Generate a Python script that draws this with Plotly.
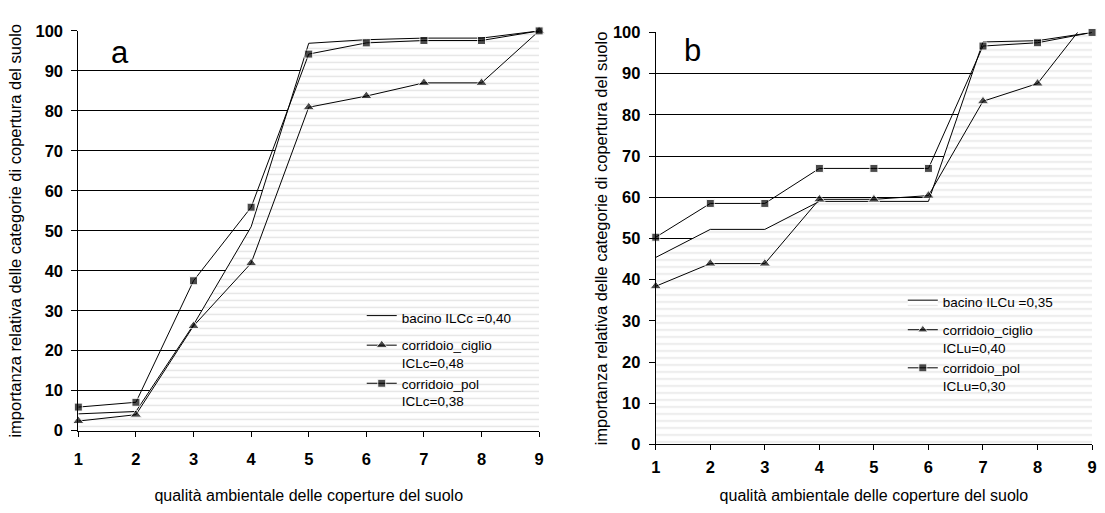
import plotly.graph_objects as go

# Classi di qualità ambientale (asse x)
classi = [1, 2, 3, 4, 5, 6, 7, 8, 9]

# Pannello a: curve cumulate (ILCc / ICLc)
bacino_a = [4.2, 4.8, 26.5, 51.0, 96.9, 97.8, 98.2, 98.2, 100.0]
ciglio_a = [2.4, 4.0, 26.2, 41.9, 80.9, 83.7, 87.0, 87.0, 100.0]
pol_a = [5.9, 7.1, 37.5, 55.9, 94.2, 97.0, 97.6, 97.6, 100.0]

# Pannello b: curve cumulate (ILCu / ICLu)
bacino_b = [45.4, 52.2, 52.2, 59.0, 59.0, 59.0, 97.7, 98.0, 100.0]
ciglio_b = [38.4, 43.9, 43.9, 59.5, 59.5, 60.4, 83.3, 87.6, 104.5]
pol_b = [50.3, 58.5, 58.5, 67.0, 67.0, 67.0, 96.7, 97.5, 100.0]

nomi_a = ["bacino ILCc =0,40", "corridoio_ciglio<br>ICLc=0,48", "corridoio_pol<br>ICLc=0,38"]
nomi_b = ["bacino ILCu =0,35", "corridoio_ciglio<br>ICLu=0,40", "corridoio_pol<br>ICLu=0,30"]

W, H = 1105, 513
FONT = "Liberation Sans, Arial, sans-serif"
YMAX = 100


def marker_sizes(values, size):
    # markers beyond the plotted range are not drawn (the line is clipped there)
    return [size if v <= YMAX else 0 for v in values]


fig = go.Figure()


def add_panel(xa, ya, leg, bacino, ciglio, pol, nomi):
    fig.add_trace(go.Scatter(
        x=classi, y=bacino, name=nomi[0], mode="lines", fill="tozeroy",
        line=dict(color="black", width=1),
        fillcolor="white",
        fillpattern=dict(shape="-", fgcolor="#cccccc", bgcolor="white",
                         size=7, solidity=0.22),
        xaxis=xa, yaxis=ya, legend=leg, legendgroup=leg + "g1",
    ))
    fig.add_trace(go.Scatter(
        x=classi, y=ciglio, name=nomi[1], mode="lines+markers",
        line=dict(color="black", width=1),
        marker=dict(symbol="triangle-up", color="black",
                    size=marker_sizes(ciglio, 10)),
        cliponaxis=False,
        xaxis=xa, yaxis=ya, legend=leg, legendgroup=leg + "g2",
    ))
    fig.add_trace(go.Scatter(
        x=classi, y=pol, name=nomi[2], mode="lines+markers",
        line=dict(color="black", width=1),
        marker=dict(symbol="square", color="black",
                    size=marker_sizes(pol, 8)),
        cliponaxis=False,
        xaxis=xa, yaxis=ya, legend=leg, legendgroup=leg + "g2",
    ))


add_panel("x", "y", "legend", bacino_a, ciglio_a, pol_a, nomi_a)
add_panel("x2", "y2", "legend2", bacino_b, ciglio_b, pol_b, nomi_b)


def px_x(p):
    return p / W


def px_y(p):
    return 1 - p / H


xtitle = "qualità ambientale delle coperture del suolo"
ytitle = "importanza relativa delle categorie di copertura del suolo"

tick_font = dict(family=FONT, size=16.5, color="black", weight="bold")

common_x = dict(
    range=[1, 9], tickmode="array", tickvals=classi, showgrid=False,
    zeroline=False, showline=True, linecolor="black", linewidth=1,
    ticks="outside", ticklen=5, tickcolor="black", tickfont=tick_font,
    title=dict(text=xtitle, font=dict(family=FONT, size=16, color="black")),
)
common_y = dict(
    range=[0, YMAX], dtick=10, showgrid=True, gridcolor="black", gridwidth=1,
    zeroline=False, showline=True, linecolor="black", linewidth=1,
    ticks="outside", ticklen=6, tickcolor="black", tickfont=tick_font,
    title=dict(text=ytitle, font=dict(family=FONT, size=16.5, color="black")),
)

legend_common = dict(
    font=dict(family=FONT, size=13.5, color="black"),
    bgcolor="rgba(0,0,0,0)", borderwidth=0, valign="top",
    traceorder="grouped", tracegroupgap=7, xanchor="left", yanchor="top",
)

fig.update_layout(
    width=W, height=H,
    margin=dict(l=0, r=0, t=0, b=0),
    paper_bgcolor="white", plot_bgcolor="white",
    showlegend=True,
    xaxis=dict(common_x, domain=[px_x(74), px_x(539)], anchor="y",
               ticklabelstandoff=9, title_standoff=22),
    yaxis=dict(common_y, domain=[px_y(437), px_y(22.7)], anchor="x",
               ticklabelstandoff=5, title_standoff=9),
    xaxis2=dict(common_x, domain=[px_x(656.7), px_x(1097)], anchor="y2",
                ticklabelstandoff=3, title_standoff=14),
    yaxis2=dict(common_y, domain=[px_y(451.3), px_y(24.3)], anchor="x2",
                ticklabelstandoff=5, title_standoff=1),
    legend=dict(legend_common, x=px_x(360), y=px_y(304)),
    legend2=dict(legend_common, x=px_x(906), y=px_y(288)),
    annotations=[
        dict(text="a", x=px_x(116), y=px_y(45), xref="paper", yref="paper",
             xanchor="center", yanchor="middle", showarrow=False,
             font=dict(family=FONT, size=31, color="black")),
        dict(text="b", x=px_x(694), y=px_y(43), xref="paper", yref="paper",
             xanchor="center", yanchor="middle", showarrow=False,
             font=dict(family=FONT, size=31, color="black")),
    ],
)

fig.write_html("out.html")
